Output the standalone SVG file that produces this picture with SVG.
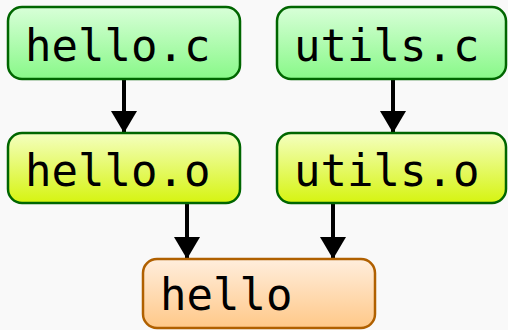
<svg xmlns="http://www.w3.org/2000/svg" width="508" height="330" viewBox="0 0 508 330">
<defs>
<linearGradient id="gGreen" x1="0" y1="0" x2="0" y2="1"><stop offset="0" stop-color="#d8ffd8"/><stop offset="1" stop-color="#88f888"/></linearGradient>
<linearGradient id="gYellow" x1="0" y1="0" x2="0" y2="1"><stop offset="0" stop-color="#f4ffc0"/><stop offset="1" stop-color="#d6f410"/></linearGradient>
<linearGradient id="gOrange" x1="0" y1="0" x2="0" y2="1"><stop offset="0" stop-color="#ffeedd"/><stop offset="1" stop-color="#ffc888"/></linearGradient>
<marker id="arr" markerWidth="6.5" markerHeight="6.5" refX="5.5" refY="3.25" orient="auto" markerUnits="strokeWidth" viewBox="0 0 6.5 6.5"><path d="M0,0 L5.5,3.25 L0,6.5 Z" fill="#000"/></marker>
</defs>
<style>
.green{fill:url(#gGreen);stroke:#006600;stroke-width:2.5}
.yellow{fill:url(#gYellow);stroke:#006600;stroke-width:2.5}
.orange{fill:url(#gOrange);stroke:#b06000;stroke-width:2.5}
text{font-family:"DejaVu Sans Mono",monospace;font-size:44px;fill:#000}
.edge{stroke:#000;stroke-width:4;fill:none;marker-end:url(#arr)}
</style>
<rect width="508" height="330" fill="#f9f9f9"/>
<g id="connectors">
<line class="edge" x1="124" y1="79" x2="124" y2="133"/>
<line class="edge" x1="393" y1="79" x2="393" y2="133"/>
<line class="edge" x1="187" y1="204" x2="187" y2="259"/>
<line class="edge" x1="333" y1="204" x2="333" y2="259"/>
</g>
<g id="hello_c"><rect class="green" x="8" y="7" width="232" height="72" rx="14"/><text x="25" y="61">hello.c</text></g>
<g id="utils_c"><rect class="green" x="277" y="7" width="229" height="72" rx="14"/><text x="294" y="61">utils.c</text></g>
<g id="hello_o"><rect class="yellow" x="8" y="133" width="232" height="70" rx="14"/><text x="25" y="186">hello.o</text></g>
<g id="utils_o"><rect class="yellow" x="277" y="133" width="229" height="70" rx="14"/><text x="294" y="186">utils.o</text></g>
<g id="hello"><rect class="orange" x="143" y="259" width="232" height="69" rx="14"/><text x="160" y="310">hello</text></g>
</svg>
